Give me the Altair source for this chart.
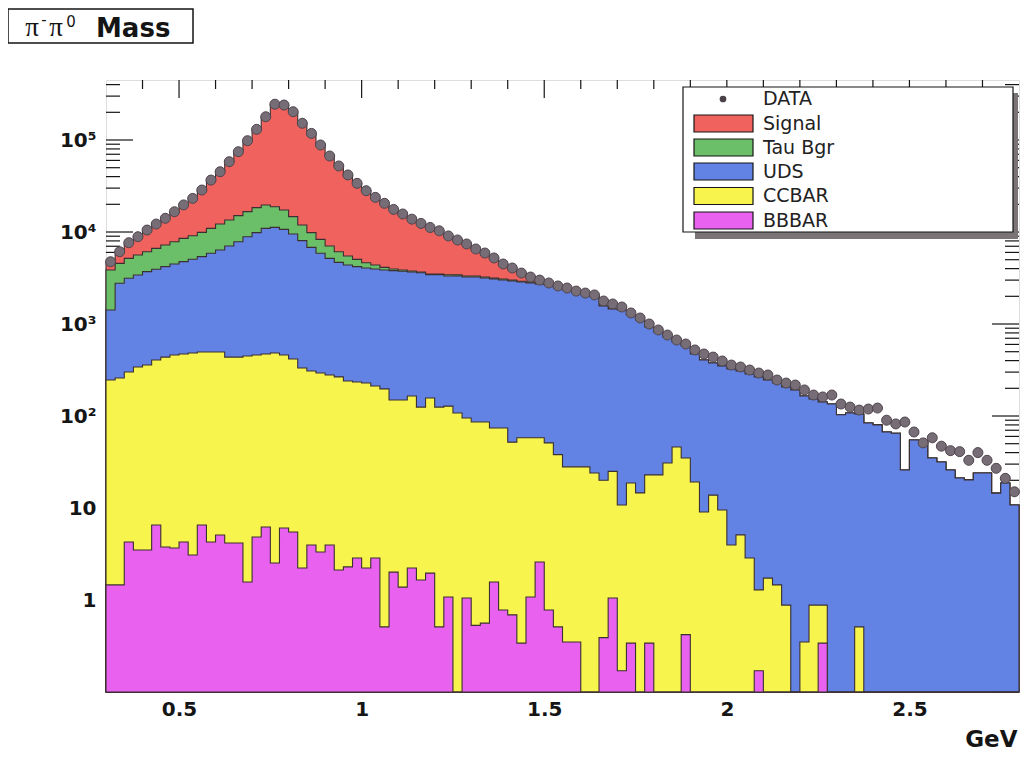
import altair as alt
import numpy as np
import pandas as pd

# ---------------- data ----------------
x_lo, x_hi, bin_w = 0.3, 2.8, 0.025
y_min, y_max = 0.1, 4.49e5

series_names = ["Signal", "Tau Bgr", "UDS", "CCBAR", "BBBAR"]
series_colors = ["#f0625e", "#6cbf69", "#6283e4", "#f8f44e", "#e962ef"]

data_counts = [4750, 6110, 7650, 8890, 10500, 12200, 14100, 16600, 19700, 23200,
               28600, 36700, 45200, 58100, 74600, 98300, 130600, 179000, 245000, 240000,
               203000, 152000, 118000, 88300, 67000, 52200, 41700, 33800, 28100, 23800,
               20500, 17600, 15700, 13800, 12400, 11200, 10300, 9060, 8190, 7410,
               6540, 5910, 5220, 4490, 4060, 3580, 3240, 3000, 2790, 2590,
               2460, 2280, 2170, 2070, 1778, 1650, 1530, 1318, 1162, 1000,
               861, 759, 670, 606, 522, 472, 437, 396, 358, 341,
               316, 293, 279, 246, 228, 217, 192, 169, 161, 169,
               135, 125, 116, 119, 122, 90, 82, 86, 67, 51,
               58, 47, 42, 41, 33, 40, 33, 27, 21, 15]

# cumulative stack heights as drawn (Signal = top of the stack)
top_signal = [4750, 6110, 7650, 8890, 10500, 12200, 14100, 16600, 19700, 23200,
              28600, 36700, 45200, 58100, 74600, 98300, 130600, 179000, 245000, 240000,
              203000, 152000, 118000, 88300, 67000, 52200, 41700, 33800, 28100, 23800,
              20500, 17600, 15700, 13800, 12400, 11200, 10300, 9060, 8190, 7410,
              6540, 5910, 5220, 4490, 4060, 3580, 3240, 3000, 2790, 2590,
              2460, 2280, 2170, 2070, 1570, 1456, 1420, 1253, 1105, 927,
              818, 722, 637, 577, 472, 406, 377, 349, 324, 308,
              286, 266, 246, 228, 207, 192, 165, 153, 142, 135,
              103, 108, 105, 84, 80, 67, 65, 25.9, 54.8, 53.5,
              34.9, 31.6, 25.9, 21.2, 20.2, 24, 24, 14.5, 18.7, 10.8]

top_taubgr = [3864, 4560, 5170, 5620, 6110, 6640, 7220, 7850, 8530, 9120,
              9910, 10960, 12220, 13500, 15060, 16640, 18390, 19660, 18850, 17340,
              14680, 11910, 9840, 8320, 7040, 6110, 5480, 5040, 4640, 4380,
              4130, 3960, 3860, 3770, 3670, 3500, 3500, 3430, 3420, 3330,
              3320, 3240, 3150, 3080, 3000, 2920, 2850, 2770, 2700, 2560,
              2420, 2270, 2150, 2050, 1570, 1456, 1420, 1253, 1105, 927,
              818, 722, 637, 577, 472, 406, 377, 349, 324, 308,
              286, 266, 246, 228, 207, 192, 165, 153, 142, 135,
              103, 108, 105, 84, 80, 67, 65, 25.9, 54.8, 53.5,
              34.9, 31.6, 25.9, 21.2, 20.2, 24, 24, 14.5, 18.7, 10.8]

top_uds = [1420, 2770, 3140, 3410, 3710, 3930, 4200, 4490, 4760, 5050,
           5400, 5870, 6380, 7040, 7850, 8890, 9840, 10960, 11240, 10690,
           9510, 8050, 6810, 5870, 5170, 4680, 4380, 4200, 4060, 3960,
           3860, 3800, 3740, 3670, 3610, 3440, 3440, 3330, 3330, 3240,
           3240, 3160, 3080, 3010, 2930, 2860, 2790, 2720, 2650, 2480,
           2350, 2200, 2090, 1990, 1570, 1456, 1420, 1253, 1105, 927,
           818, 722, 637, 577, 472, 406, 377, 349, 324, 308,
           286, 266, 246, 228, 207, 192, 165, 153, 142, 135,
           103, 108, 105, 84, 80, 67, 65, 25.9, 54.8, 53.5,
           34.9, 31.6, 25.9, 21.2, 20.2, 24, 24, 14.5, 18.7, 10.8]

top_ccbar = [246, 259, 301, 341, 358, 406, 437, 460, 472, 484,
             496, 496, 496, 437, 437, 449, 460, 472, 484, 460,
             417, 333, 308, 293, 279, 266, 240, 234, 228, 212,
             197, 149, 149, 165, 125, 157, 125, 128, 108, 95,
             86, 86, 74, 74, 52, 58, 58, 58, 51, 38,
             28, 28, 28, 24, 20, 25, 10.8, 18.7, 14.6, 22.9,
             22.9, 30.8, 46, 34.9, 19.2, 9.06, 13.8, 9.5, 3.96, 5.1,
             2.86, 1.29, 1.73, 1.46, 0.88, 0, 0.35, 0.88, 0.88, 0,
             0, 0, 0.51, 0, 0, 0, 0, 0, 0, 0,
             0, 0, 0, 0, 0, 0, 0, 0, 0, 0]

top_bbbar = [1.46, 1.46, 4.27, 3.49, 3.49, 6.53, 3.77, 3.67, 4.27, 3.08,
             6.53, 4.27, 5.09, 4.17, 4.17, 1.57, 4.84, 6.21, 2.52, 6.06,
             5.48, 2.23, 3.96, 3.32, 3.96, 2.12, 2.29, 2.86, 2.23, 2.86,
             0.51, 2.01, 1.38, 2.23, 1.65, 1.96, 0.51, 1.08, 0, 1.05,
             0.53, 0.56, 1.57, 0.78, 0.69, 0.34, 1.08, 2.59, 0.78, 0.51,
             0.35, 0.35, 0, 0, 0.39, 1.05, 0.17, 0.34, 0, 0.34,
             0, 0, 0, 0.42, 0, 0, 0, 0, 0, 0,
             0, 0.17, 0, 0, 0, 0, 0, 0, 0.34, 0,
             0, 0, 0, 0, 0, 0, 0, 0, 0, 0,
             0, 0, 0, 0, 0, 0, 0, 0, 0, 0]

x_tick_values = [0.5, 1, 1.5, 2, 2.5]
x_tick_labels = ["0.5", "1", "1.5", "2", "2.5"]
y_tick_values = [1, 10, 100, 1000, 10000, 100000]
y_tick_labels = ["1", "10", "10²", "10³", "10⁴", "10⁵"]
legend_data_label = "DATA"
title_parts = ["π", "-", "π", "0", "Mass"]

# ---------------- layout ----------------
W, H = 913, 612
FONT = "DejaVu Sans"
INK = "#151515"
EDGE = "#3a2f31"

n = len(data_counts)
edges = np.round(x_lo + bin_w * np.arange(n + 1), 4)

def step_frame(vals):
    v = list(vals) + [vals[-1]]
    return pd.DataFrame({"x": edges, "v": [max(a, y_min) for a in v]})

pts = pd.DataFrame({"x": edges[:-1] + bin_w / 2, "v": data_counts})

xs = alt.Scale(domain=[x_lo, x_hi], nice=False, zero=False)
ys = alt.Scale(type="log", domain=[y_min, y_max], nice=False)

def expr(vals, labels):
    e = "''"
    for v, l in reversed(list(zip(vals, labels))):
        e = f"datum.value == {v} ? '{l}' : ({e})"
    return e

x_axis = alt.Axis(values=x_tick_values, labelExpr=expr(x_tick_values, x_tick_labels),
                  labelFontSize=20, labelFontWeight="bold", labelColor=INK, labelPadding=7,
                  labelFont=FONT, ticks=False, domain=False, grid=False, labelOverlap=False,
                  titleFontSize=23, titleFontWeight="bold", titleFont=FONT, titleColor=INK,
                  titleAnchor="end", titleAlign="right", titleBaseline="alphabetic",
                  titleX=W - 2, titleY=54)
y_axis = alt.Axis(values=y_tick_values, labelExpr=expr(y_tick_values, y_tick_labels),
                  labelFontSize=20, labelFontWeight="bold", labelColor=INK, labelPadding=10,
                  labelFont=FONT, ticks=False, domain=False, grid=False, labelOverlap=False)

X = alt.X("x:Q", scale=xs, axis=x_axis, title="GeV")
Y = alt.Y("v:Q", scale=ys, axis=y_axis, title=None)

# ---------------- tick marks (inside the frame, ROOT style) ----------------
x_minor = [round(t, 2) for t in np.arange(0.4, 2.75, 0.1) if round(t, 2) not in x_tick_values]
y_major = [0.1] + y_tick_values
y_minor = [k * 10.0 ** d for d in range(-1, 6) for k in range(2, 10) if k * 10.0 ** d < y_max]

tick_layers = [
    alt.Chart(pd.DataFrame({"x": x_tick_values})).mark_rule(color=INK, strokeWidth=1.2)
    .encode(x=X, y=alt.value(0), y2=alt.value(18)),
    alt.Chart(pd.DataFrame({"x": x_minor})).mark_rule(color=INK, strokeWidth=1.2)
    .encode(x=X, y=alt.value(0), y2=alt.value(9)),
    alt.Chart(pd.DataFrame({"v": y_major})).mark_rule(color=INK, strokeWidth=1.2)
    .encode(y=Y, x=alt.value(0), x2=alt.value(27)),
    alt.Chart(pd.DataFrame({"v": y_minor})).mark_rule(color=INK, strokeWidth=1.2)
    .encode(y=Y, x=alt.value(0), x2=alt.value(14)),
    alt.Chart(pd.DataFrame({"v": y_major})).mark_rule(color=INK, strokeWidth=1.2)
    .encode(y=Y, x=alt.value(W - 27), x2=alt.value(W)),
    alt.Chart(pd.DataFrame({"v": y_minor})).mark_rule(color=INK, strokeWidth=1.2)
    .encode(y=Y, x=alt.value(W - 14), x2=alt.value(W)),
]

# ---------------- stacked histograms ----------------
hist_layers = []
for name, color, vals in zip(series_names, series_colors,
                             [top_signal, top_taubgr, top_uds, top_ccbar, top_bbbar]):
    hist_layers.append(
        alt.Chart(step_frame(vals)).mark_area(interpolate="step-after", fill=color,
                                              stroke=EDGE, strokeWidth=1.1, opacity=1)
        .encode(x=X, y=Y, y2=alt.datum(y_min))
    )

points = alt.Chart(pts).mark_point(shape="circle", filled=True, size=100, fill="#776d76",
                                   stroke="#4f454d", strokeWidth=1, opacity=1).encode(x=X, y=Y)

# ---------------- legend (drawn as a boxed panel) ----------------
one = pd.DataFrame({"a": [0]})
LX0, LX1, LY0, LY1 = 577, 907, 7, 152
LEG_FS = 19
legend_layers = [
    alt.Chart(one).mark_rect(fill="#7b7477").encode(
        x=alt.value(LX0 + 12), x2=alt.value(LX1 + 5), y=alt.value(LY1), y2=alt.value(LY1 + 7)),
    alt.Chart(one).mark_rect(fill="#7b7477").encode(
        x=alt.value(LX1), x2=alt.value(LX1 + 5), y=alt.value(LY0 + 6), y2=alt.value(LY1 + 7)),
    alt.Chart(one).mark_rect(fill="white", stroke=INK, strokeWidth=1.2).encode(
        x=alt.value(LX0), x2=alt.value(LX1), y=alt.value(LY0), y2=alt.value(LY1)),
    alt.Chart(one).mark_point(shape="circle", filled=True, size=45, fill="#4a4048", opacity=1)
    .encode(x=alt.value(617), y=alt.value(19)),
    alt.Chart(one).mark_text(text=legend_data_label, align="left", baseline="middle",
                             fontSize=LEG_FS, font=FONT, color="#222")
    .encode(x=alt.value(657), y=alt.value(19)),
]
row_y = [43.5, 67.5, 91.5, 116, 140.5]
for name, color, yc in zip(series_names, series_colors, row_y):
    legend_layers.append(
        alt.Chart(one).mark_rect(fill=color, stroke=INK, strokeWidth=1.2).encode(
            x=alt.value(588), x2=alt.value(647), y=alt.value(yc - 8.5), y2=alt.value(yc + 8.5)))
    legend_layers.append(
        alt.Chart(one).mark_text(text=name, align="left", baseline="middle", fontSize=LEG_FS,
                                 font=FONT, color="#222")
        .encode(x=alt.value(657), y=alt.value(yc)))

# ---------------- title box ----------------
title_layers = [
    alt.Chart(one).mark_rect(fill="white", stroke=INK, strokeWidth=1.5).encode(
        x=alt.value(-98), x2=alt.value(87), y=alt.value(-71), y2=alt.value(-37)),
    alt.Chart(one).mark_text(text=title_parts[0], align="center", baseline="alphabetic",
                             fontSize=27, font="Liberation Serif", color=INK)
    .encode(x=alt.value(-74), y=alt.value(-44)),
    alt.Chart(one).mark_text(text=title_parts[1], align="center", baseline="alphabetic",
                             fontSize=15, font=FONT, color=INK)
    .encode(x=alt.value(-62), y=alt.value(-55)),
    alt.Chart(one).mark_text(text=title_parts[2], align="center", baseline="alphabetic",
                             fontSize=27, font="Liberation Serif", color=INK)
    .encode(x=alt.value(-50), y=alt.value(-44)),
    alt.Chart(one).mark_text(text=title_parts[3], align="center", baseline="alphabetic",
                             fontSize=15, font=FONT, color=INK)
    .encode(x=alt.value(-35), y=alt.value(-53)),
    alt.Chart(one).mark_text(text=title_parts[4], align="left", baseline="alphabetic",
                             fontSize=26, fontWeight="bold", font=FONT, color=INK)
    .encode(x=alt.value(-10), y=alt.value(-43)),
]

chart = alt.layer(*tick_layers, *hist_layers, points, *legend_layers, *title_layers).properties(
    width=W, height=H,
    autosize=alt.AutoSizeParams(type="none"),
    padding={"left": 98, "top": 72, "right": 1, "bottom": 58},
).configure_view(stroke=INK, strokeWidth=1.2).configure(font=FONT, background="white")

chart.save("out.html", embed_options={"renderer": "svg", "actions": False})
